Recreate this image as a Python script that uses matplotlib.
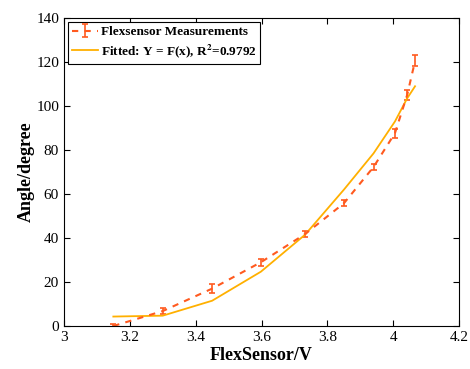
import numpy as np
import matplotlib.pyplot as plt

plt.rcParams['font.family'] = ['Liberation Serif', 'DejaVu Serif']
plt.rcParams['mathtext.fontset'] = 'stix'

# measured points
volt = [3.15, 3.30, 3.45, 3.598, 3.732, 3.85, 3.94, 4.005, 4.042, 4.066]
angle = [0.0, 6.8, 17.0, 29.0, 41.8, 55.8, 72.3, 87.7, 105.0, 120.5]
err = [1.0, 1.2, 2.2, 1.5, 1.2, 1.4, 1.5, 2.0, 2.2, 2.5]
# fitted curve
fit = [4.3, 4.7, 11.5, 24.7, 41.5, 62.0, 78.5, 93.0, 103.5, 109.0]

fig = plt.figure(figsize=(4.7, 3.69), dpi=100)
ax = fig.add_axes([0.136, 0.1165, 0.841, 0.8345])

h1 = ax.errorbar(volt, angle, yerr=err, color='#FF5A1F', linestyle='--', linewidth=1.5,
                 capsize=2, elinewidth=1.2, capthick=1.2, dashes=(3, 3),
                 label='Flexsensor Measurements')
h2, = ax.plot(volt, fit, color='#FFB000', linewidth=1.3,
              label='Fitted: Y = F(x), R$^\\mathbf{2}$=0.9792')

ax.set_xlim(3, 4.2)
ax.set_ylim(0, 140)
ax.set_xticks([3, 3.2, 3.4, 3.6, 3.8, 4, 4.2])
ax.set_xticklabels(['3', '3.2', '3.4', '3.6', '3.8', '4', '4.2'])
ax.set_yticks(np.arange(0, 141, 20))
ax.tick_params(direction='in', top=True, right=True, labelsize=11, length=4, width=0.8)
for s in ax.spines.values():
    s.set_linewidth(0.8)

ax.set_xlabel('FlexSensor/V', fontsize=13, fontweight='bold', labelpad=2)
ax.set_ylabel('Angle/degree', fontsize=13, fontweight='bold', labelpad=1)

leg = ax.legend(handles=[h1, h2], loc='upper left', prop={'weight': 'bold', 'size': 9.5},
                fancybox=False, edgecolor='black', framealpha=1,
                borderpad=0.3, labelspacing=0.3, handlelength=2.0, handletextpad=0.2,
                borderaxespad=0.3)
leg.get_frame().set_linewidth(0.8)

fig.savefig('out.png', dpi=100)
